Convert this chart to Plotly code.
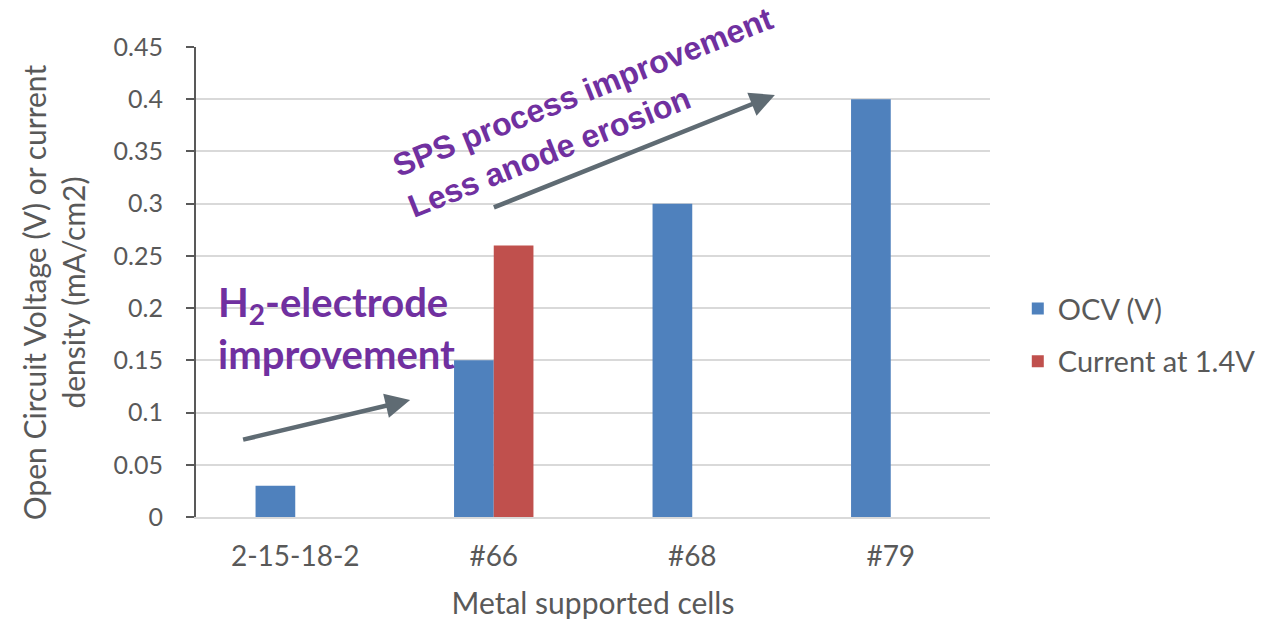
import plotly.graph_objects as go

cells = ["2-15-18-2", "#66", "#68", "#79"]
ocv = [0.03, 0.15, 0.30, 0.40]
current_14v = [None, 0.26, None, None]

FONT = "Lato"
GREY = "#595959"
PURPLE = "#7030A0"
ARROW = "#5F6B73"

fig = go.Figure()

fig.add_trace(go.Bar(
    x=cells, y=ocv, name="OCV (V)", legendgroup="a",
    marker=dict(color="#4F81BD", line=dict(width=0)),
))
fig.add_trace(go.Bar(
    x=cells, y=current_14v, name="Current at 1.4V", legendgroup="b",
    marker=dict(color="#C0504D", line=dict(width=0)),
))

# page has an 8px body margin, so size the figure a bit smaller
W, H = 1265, 612
L, R, T, B = 188, 276, 39, 103

# plot box as seen on screen, used to place the hand-drawn arrows/labels
X0, X1, Y0, Y1 = 196, 997, 47, 517


def dom(x, y):
    return (x - X0) / (X1 - X0), 1 - (y - Y0) / (Y1 - Y0)


for (x0, y0), (x1, y1) in [((242, 440), (412, 400)), ((495, 208), (780, 95))]:
    ax, ay = dom(x0, y0)
    hx, hy = dom(x1, y1)
    fig.add_annotation(
        x=hx, y=hy, ax=ax, ay=ay, xref="x domain", yref="y domain",
        axref="x domain", ayref="y domain", showarrow=True, text="",
        arrowhead=2, arrowsize=1.1, arrowwidth=4.5, arrowcolor=ARROW,
    )

for label, (cx, cy) in [("SPS process improvement", (586, 92)),
                        ("Less anode erosion", (553, 152))]:
    tx, ty = dom(cx, cy)
    fig.add_annotation(
        x=tx, y=ty, xref="paper", yref="paper", showarrow=False,
        xanchor="center", yanchor="middle",
        text="<b>%s</b>" % label, textangle=-21.7,
        font=dict(family="Arial", size=32, color=PURPLE),
    )

tx, ty = dom(216, 328)
fig.add_annotation(
    x=tx, y=ty, xref="paper", yref="paper", showarrow=False,
    xanchor="left", yanchor="middle", align="left",
    text="<b>H<sub>2</sub>-electrode<br>improvement</b>",
    font=dict(family=FONT, size=40, color=PURPLE),
)

# y-axis title, sits a little below the plot centre in the original
tx, ty = dom(52, 292)
fig.add_annotation(
    x=tx, y=ty, xref="paper", yref="paper", showarrow=False,
    xanchor="center", yanchor="middle", textangle=-90,
    text="Open Circuit Voltage (V) or current<br>density (mA/cm2)",
    font=dict(family=FONT, size=30, color=GREY),
)

fig.update_layout(
    width=W, height=H,
    margin=dict(l=L, r=R, t=T, b=B),
    paper_bgcolor="white", plot_bgcolor="white",
    barmode="group", bargap=0.6, bargroupgap=0,
    font=dict(family=FONT, size=28, color=GREY),
    showlegend=True,
    legend=dict(
        x=1.035, y=0.387, xanchor="left", yanchor="middle",
        font=dict(size=29, color=GREY),
        tracegroupgap=12, itemwidth=30,
    ),
)
fig.update_xaxes(
    title=dict(text="Metal supported cells", font=dict(size=30), standoff=24),
    automargin=False,
    showline=True, linecolor="#D9D9D9", linewidth=2,
    ticks="", tickfont=dict(size=28), ticklabelstandoff=13,
)
fig.update_yaxes(
    automargin=False,
    range=[0, 0.45], dtick=0.05,
    showgrid=True, gridcolor="#D9D9D9", gridwidth=2,
    showline=True, linecolor=GREY, linewidth=2,
    ticks="outside", ticklen=8, tickcolor=GREY, tickwidth=2,
    zeroline=False, tickfont=dict(size=25), ticklabelstandoff=18,
)

fig.write_html("out.html")
